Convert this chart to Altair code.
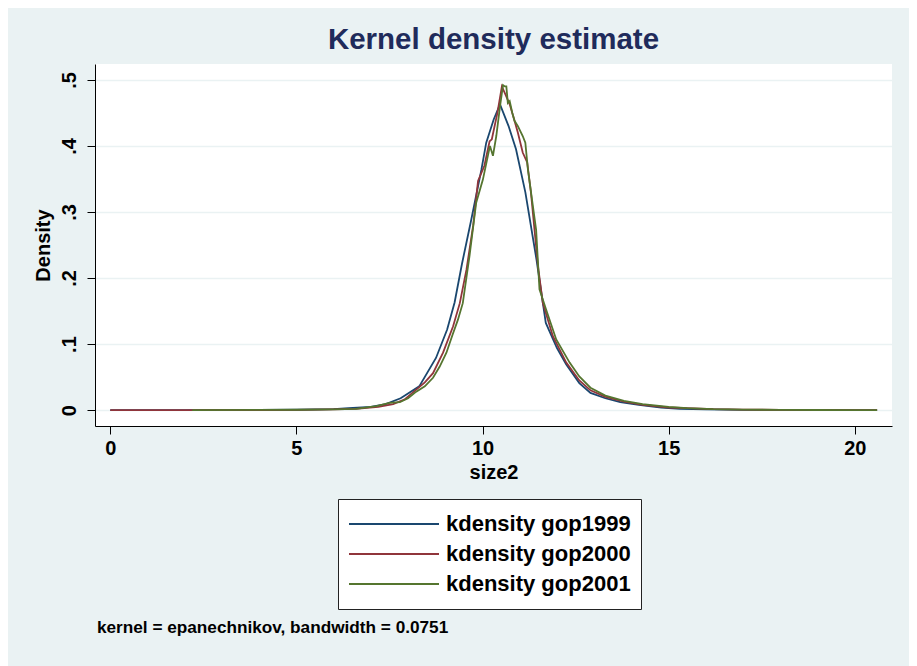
import altair as alt
import pandas as pd

# ---- data ----
series_names = ["kdensity gop1999", "kdensity gop2000", "kdensity gop2001"]
series_colors = ["#1A476F", "#90353B", "#55752F"]

x_1999 = [0, 2, 4, 5, 6, 6.4, 7.0, 7.4, 7.8, 8.3, 8.75, 9.05, 9.25, 9.45, 9.7, 9.97,
          10.1, 10.3, 10.47, 10.7, 10.9, 11.15, 11.45, 11.7, 12.0, 12.25, 12.6, 12.9,
          13.3, 13.7, 14.2, 14.8, 15.3, 16, 17, 18, 19, 20, 20.6]
y_1999 = [0, 0, 0.0003, 0.0006, 0.0015, 0.003, 0.005, 0.009, 0.018, 0.036, 0.079, 0.122,
          0.163, 0.222, 0.289, 0.364, 0.405, 0.44, 0.463, 0.43, 0.395, 0.33, 0.228, 0.132,
          0.094, 0.069, 0.041, 0.026, 0.018, 0.012, 0.008, 0.004, 0.002, 0.0012, 0.0005,
          0.0003, 0.0002, 0.0001, 0]

x_2000 = [0, 2, 4, 5, 6, 6.6, 7.2, 7.6, 7.9, 8.22, 8.45, 8.67, 8.94, 9.21, 9.39, 9.57,
          9.75, 9.88, 10.05, 10.19, 10.25, 10.4, 10.52, 10.6, 10.73, 10.85, 10.95, 11.08,
          11.2, 11.3, 11.49, 11.62, 11.89, 12.25, 12.6, 12.9, 13.3, 13.8, 14.3, 15, 15.5,
          16.2, 17, 18, 19, 20, 20.6]
y_2000 = [0, 0, 0.0002, 0.0005, 0.0012, 0.002, 0.005, 0.009, 0.016, 0.031, 0.042, 0.056,
          0.087, 0.127, 0.162, 0.213, 0.28, 0.347, 0.37, 0.407, 0.41, 0.45, 0.49, 0.48,
          0.463, 0.44, 0.42, 0.39, 0.375, 0.33, 0.218, 0.162, 0.112, 0.072, 0.045, 0.03,
          0.02, 0.013, 0.008, 0.004, 0.003, 0.0015, 0.0008, 0.0004, 0.0002, 0.0001, 0]

x_2001 = [2.2, 4, 5, 6, 6.6, 7.15, 7.5, 7.78, 8.0, 8.22, 8.45, 8.67, 8.85, 9.03, 9.2,
          9.34, 9.47, 9.65, 9.83, 10.01, 10.2, 10.28, 10.37, 10.47, 10.55, 10.6, 10.64,
          10.68, 10.73, 10.8, 10.86, 10.95, 11.08, 11.15, 11.22, 11.44, 11.53, 11.71,
          11.98, 12.34, 12.6, 12.9, 13.3, 13.8, 14.3, 15, 15.5, 16.2, 17, 18, 19, 20, 20.6]
y_2001 = [0, 0.0003, 0.0006, 0.0012, 0.002, 0.006, 0.011, 0.012, 0.018, 0.028, 0.036,
          0.049, 0.066, 0.087, 0.115, 0.137, 0.162, 0.233, 0.314, 0.349, 0.40, 0.385,
          0.415, 0.46, 0.492, 0.49, 0.49, 0.465, 0.468, 0.45, 0.438, 0.43, 0.415, 0.405,
          0.364, 0.273, 0.183, 0.152, 0.107, 0.072, 0.051, 0.034, 0.022, 0.014, 0.009,
          0.005, 0.003, 0.0015, 0.0008, 0.0004, 0.0002, 0.0001, 0]

x_ticks = [0, 5, 10, 15, 20]
y_ticks = [0, 0.1, 0.2, 0.3, 0.4, 0.5]

title_text = "Kernel density estimate"
x_title = "size2"
y_title = "Density"
note_text = "kernel = epanechnikov, bandwidth = 0.0751"

# ---- build table ----
rows = []
for name, xs, ys in zip(series_names, [x_1999, x_2000, x_2001], [y_1999, y_2000, y_2001]):
    for i, (xv, yv) in enumerate(zip(xs, ys)):
        rows.append({"series": name, "size2": xv, "density": yv, "idx": i})
df = pd.DataFrame(rows)
note_df = pd.DataFrame({"note": [note_text]})

FONT = "Liberation Sans"
BG = "#EAF2F3"

lines = alt.Chart(df).mark_line(strokeWidth=1.8).encode(
    x=alt.X("size2:Q",
            scale=alt.Scale(domain=[-0.41, 21], nice=False, zero=False),
            axis=alt.Axis(values=x_ticks, title=x_title, grid=False, format="d",
                          labelPadding=4, titlePadding=4)),
    y=alt.Y("density:Q",
            scale=alt.Scale(domain=[-0.024, 0.524], nice=False, zero=False),
            axis=alt.Axis(values=y_ticks, title=y_title, grid=True, gridColor=BG,
                          gridWidth=1.5, labelAngle=-90, labelAlign="center",
                          labelBaseline="bottom", labelPadding=8, titlePadding=6,
                          labelExpr="datum.value == 0 ? '0' : replace(format(datum.value, '.1f'), '0.', '.')")),
    color=alt.Color("series:N",
                    scale=alt.Scale(domain=series_names, range=series_colors),
                    legend=alt.Legend(title=None, orient="none", legendX=243, legendY=435,
                                      direction="vertical",
                                      fillColor="white", strokeColor="#222222", padding=10,
                                      symbolType="stroke", symbolSize=8100,
                                      symbolStrokeWidth=1.8, labelFontSize=22,
                                      labelFont=FONT, labelFontWeight="bold",
                                      labelColor="black", labelOffset=6,
                                      clipHeight=30, labelLimit=400, rowPadding=0,
                                      cornerRadius=0)),
    order=alt.Order("idx:Q"),
)

note = alt.Chart(note_df).mark_text(align="left", baseline="middle", fontSize=17.2,
                                    font=FONT, fontWeight="bold", color="black").encode(
    x=alt.value(2), y=alt.value(564), text="note:N")

chart = alt.layer(lines, note).properties(
    width=797, height=362,
    title=alt.TitleParams(title_text, fontSize=29.5, font=FONT, fontWeight="bold",
                          color="#1F2B5B", anchor="middle", frame="group", offset=9),
    background=BG,
    padding={"left": 87, "top": 56, "right": 17, "bottom": 240},
    autosize=alt.AutoSizeParams(type="none"),
).configure_view(fill="white", stroke=None).configure_axis(
    domainColor="black", tickColor="black", tickSize=8, labelColor="black",
    titleColor="black", labelFont=FONT, titleFont=FONT, labelFontSize=20,
    labelFontWeight="bold", titleFontSize=20, titleFontWeight="bold", domainWidth=1,
)

chart.save("out.html", embed_options={"renderer": "svg", "actions": False})
